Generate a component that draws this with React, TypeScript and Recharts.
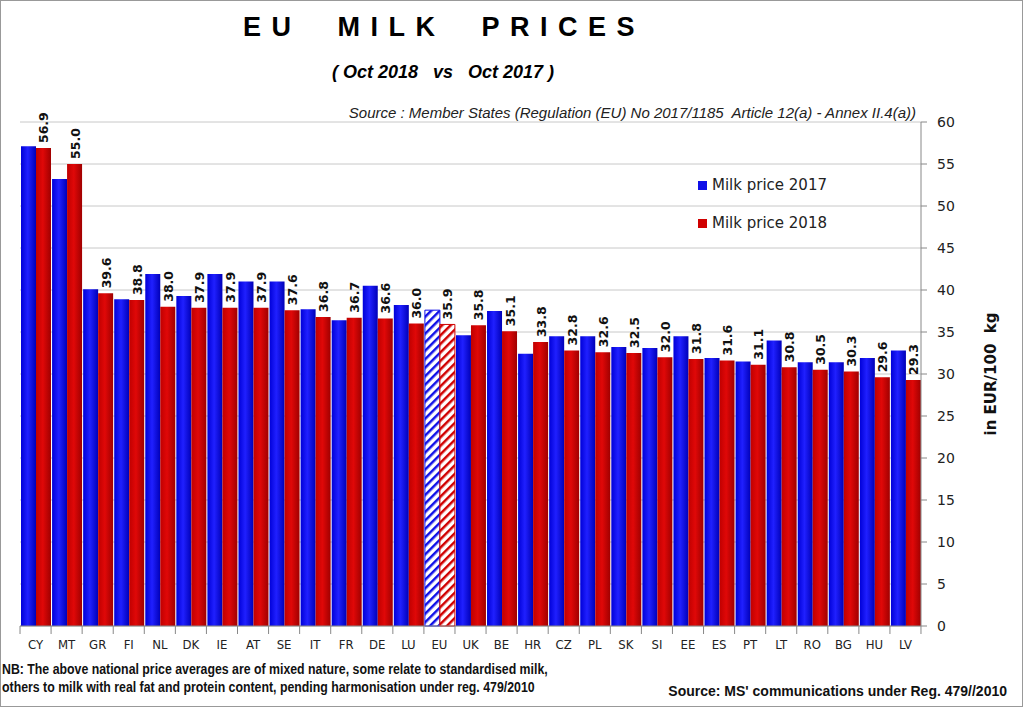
import React from 'react'
import { BarChart, Bar, XAxis, YAxis, CartesianGrid, LabelList, Cell, Label } from 'recharts'

const countries = ['CY', 'MT', 'GR', 'FI', 'NL', 'DK', 'IE', 'AT', 'SE', 'IT', 'FR', 'DE', 'LU', 'EU', 'UK', 'BE', 'HR', 'CZ', 'PL', 'SK', 'SI', 'EE', 'ES', 'PT', 'LT', 'RO', 'BG', 'HU', 'LV']
const price2017 = [57.1, 53.2, 40.1, 38.9, 41.9, 39.3, 41.9, 41.0, 41.0, 37.7, 36.4, 40.5, 38.2, 37.6, 34.6, 37.5, 32.4, 34.5, 34.5, 33.2, 33.1, 34.5, 31.9, 31.5, 34.0, 31.4, 31.4, 31.9, 32.8]
const price2018 = [56.9, 55.0, 39.6, 38.8, 38.0, 37.9, 37.9, 37.9, 37.6, 36.8, 36.7, 36.6, 36.0, 35.9, 35.8, 35.1, 33.8, 32.8, 32.6, 32.5, 32.0, 31.8, 31.6, 31.1, 30.8, 30.5, 30.3, 29.6, 29.3]
const yTicks = [0, 5, 10, 15, 20, 25, 30, 35, 40, 45, 50, 55, 60]

const data = countries.map((c, i) => ({ country: c, p2017: price2017[i], p2018: price2018[i] }))

const BAND = (920 - 20) / countries.length

const CountryTick = (props: any) => {
  const { x, y, payload, index } = props
  return (
    <g>
      <line x1={x - BAND / 2} x2={x - BAND / 2} y1={y - 8} y2={y} stroke="#888" />
      {index === countries.length - 1 && (
        <line x1={x + BAND / 2} x2={x + BAND / 2} y1={y - 8} y2={y} stroke="#888" />
      )}
      <text x={x} y={y + 15} textAnchor="middle" fontSize={13} fill="#222" fontFamily="'DejaVu Sans Condensed', 'DejaVu Sans', sans-serif">
        {payload.value}
      </text>
    </g>
  )
}

const ValueLabel = (props: any) => {
  const { x, y, width, value } = props
  const cx = x + width / 2 + 5
  const cy = y - 5
  return (
    <text x={cx} y={cy} transform={`rotate(-90 ${cx} ${cy})`} fontSize={12.5} fontWeight="bold" fill="#111" fontFamily="'DejaVu Sans', sans-serif">
      {Number(value).toFixed(1)}
    </text>
  )
}

export default function App() {
  return (
    <div style={{ position: 'absolute', left: 0, top: 0, width: 1023, height: 707, background: '#fff', border: '1px solid #999', boxSizing: 'border-box', fontFamily: "'Liberation Sans', Arial, sans-serif" }}>
      <div style={{ position: 'absolute', left: 0, width: 886, top: 11, textAlign: 'center', fontSize: 27, fontWeight: 'bold', letterSpacing: 10.5, whiteSpace: 'pre' }}>
        {'EU  MILK  PRICES'}
      </div>
      <div style={{ position: 'absolute', left: 0, width: 884, top: 61, textAlign: 'center', fontSize: 18, fontWeight: 'bold', fontStyle: 'italic', whiteSpace: 'pre' }}>
        {'( Oct 2018   vs   Oct 2017 )'}
      </div>
      <div style={{ position: 'absolute', right: 106, top: 103, fontSize: 15, fontStyle: 'italic', color: '#222', whiteSpace: 'pre' }}>
        {'Source : Member States (Regulation (EU) No 2017/1185  Article 12(a) - Annex II.4(a))'}
      </div>
      <div style={{ position: 'absolute', left: 697, top: 175, fontFamily: "'DejaVu Sans', sans-serif", fontSize: 15, color: '#222' }}>
        <div style={{ display: 'flex', alignItems: 'center', marginBottom: 20 }}>
          <span style={{ width: 9, height: 9, background: '#1010e8', marginRight: 5 }} />Milk price 2017
        </div>
        <div style={{ display: 'flex', alignItems: 'center' }}>
          <span style={{ width: 9, height: 9, background: '#d00000', marginRight: 5 }} />Milk price 2018
        </div>
      </div>
      <BarChart
        width={1021}
        height={705}
        data={data}
        margin={{ top: 121, right: 41, left: 19, bottom: 50 }}
        barCategoryGap={1}
        barGap={0}
      >
        <defs>
          <linearGradient id="gBlue" x1="0" y1="0" x2="1" y2="0">
            <stop offset="0%" stopColor="#0000d8" />
            <stop offset="45%" stopColor="#2020ff" />
            <stop offset="100%" stopColor="#0000b8" />
          </linearGradient>
          <linearGradient id="gRed" x1="0" y1="0" x2="1" y2="0">
            <stop offset="0%" stopColor="#c00000" />
            <stop offset="45%" stopColor="#e00808" />
            <stop offset="100%" stopColor="#a00000" />
          </linearGradient>
          <pattern id="hBlue" width="6" height="6" patternUnits="userSpaceOnUse" patternTransform="rotate(45)">
            <rect width="6" height="6" fill="#fff" />
            <rect width="2.5" height="6" fill="#1010e8" />
          </pattern>
          <pattern id="hRed" width="6" height="6" patternUnits="userSpaceOnUse" patternTransform="rotate(45)">
            <rect width="6" height="6" fill="#fff" />
            <rect width="2.5" height="6" fill="#d00000" />
          </pattern>
        </defs>
        <CartesianGrid vertical={false} stroke="#c8c8c8" />
        <XAxis dataKey="country" interval={0} tickLine={false} stroke="#888" height={30} tick={<CountryTick />} />
        <YAxis
          orientation="right"
          domain={[0, 60]}
          ticks={yTicks}
          width={60}
          stroke="#888"
          tickSize={6}
          tickMargin={10}
          tick={{ fontSize: 14, fill: '#222', fontFamily: "'DejaVu Sans', sans-serif" }}
        >
          <Label
            value={'in EUR/100\u00a0\u00a0kg'}
            angle={-90}
            position="right"
            offset={10}
            textAnchor="middle"
            style={{ fontSize: 15, fontWeight: 'bold', fill: '#111', fontFamily: "'DejaVu Sans', sans-serif", textAnchor: 'middle' }}
          />
        </YAxis>
        <Bar dataKey="p2017" name="Milk price 2017" fill="url(#gBlue)" isAnimationActive={false}>
          {data.map((d) => (
            <Cell key={d.country} fill={d.country === 'EU' ? 'url(#hBlue)' : 'url(#gBlue)'} stroke={d.country === 'EU' ? '#1010e8' : 'none'} />
          ))}
        </Bar>
        <Bar dataKey="p2018" name="Milk price 2018" fill="url(#gRed)" isAnimationActive={false}>
          {data.map((d) => (
            <Cell key={d.country} fill={d.country === 'EU' ? 'url(#hRed)' : 'url(#gRed)'} stroke={d.country === 'EU' ? '#d00000' : 'none'} />
          ))}
          <LabelList dataKey="p2018" content={<ValueLabel />} />
        </Bar>
      </BarChart>
      <div style={{ position: 'absolute', left: 1, top: 659, fontSize: 14, fontWeight: 'bold', lineHeight: '18px', color: '#111', transform: 'scaleX(0.88)', transformOrigin: 'left top', whiteSpace: 'nowrap' }}>
        NB: The above national price averages are of mixed nature, some relate to standardised milk,<br />
        others to milk with real fat and protein content, pending harmonisation under reg. 479/2010
      </div>
      <div style={{ position: 'absolute', right: 15, top: 682, fontSize: 14, fontWeight: 'bold', color: '#111' }}>
        Source: MS' communications under Reg. 479//2010
      </div>
    </div>
  )
}
